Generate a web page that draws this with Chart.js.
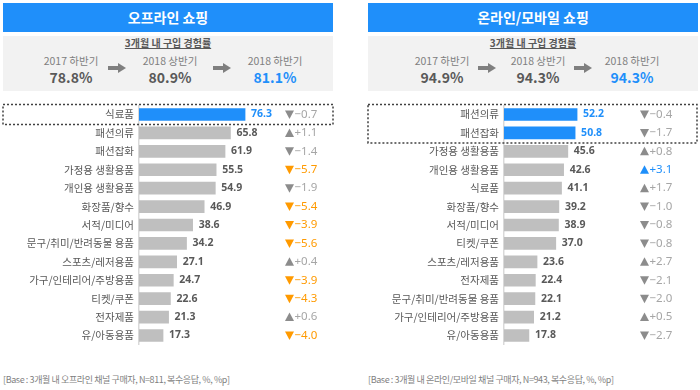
<!DOCTYPE html>
<html><head><meta charset="utf-8">
<script src="https://cdn.jsdelivr.net/npm/chart.js@4"></script>
<style>
body{margin:0;width:700px;height:390px;background:#fff;position:relative;overflow:hidden;font-family:"Noto Sans CJK KR","Noto Sans",sans-serif;}
.abs{position:absolute}
.title{background:#1f8ffa;color:#fff;font-weight:bold;font-size:14px;text-align:center;line-height:29px;height:29px;top:3px;}
.gbox{background:#f2f2f2;top:36px;height:55px;}
.sub{top:36px;font-size:10px;font-weight:bold;color:#595959;text-decoration:underline;text-align:center;line-height:14px}
.per{font-size:10.5px;color:#808080;text-align:center;width:100px;top:54px;line-height:14px}
.val{font-size:14px;color:#595959;text-align:center;width:100px;top:68px;line-height:18px;font-weight:bold}
.shaft{background:#7f7f7f;width:10px;height:4px;top:66px}
.head{width:0;height:0;border-left:8px solid #7f7f7f;border-top:5px solid transparent;border-bottom:5px solid transparent;top:63px}
.foot{top:373px;font-size:9px;color:#7f7f7f;white-space:nowrap;letter-spacing:-0.4px}
</style>
</head>
<body>
<div class="abs title" style="left:3px;width:330px">오프라인 쇼핑</div>
<div class="abs gbox" style="left:3px;width:330px"></div>
<div class="abs sub" style="left:3px;width:330px">3개월 내 구입 경험률</div>
<div class="abs title" style="left:368px;width:330px">온라인/모바일 쇼핑</div>
<div class="abs gbox" style="left:368px;width:330px"></div>
<div class="abs sub" style="left:368px;width:330px">3개월 내 구입 경험률</div>
<div id="hdr"></div>
<div class="abs" style="left:0;top:94px"><canvas id="c1" width="340" height="262"></canvas></div>
<div class="abs" style="left:350px;top:94px"><canvas id="c2" width="350" height="262"></canvas></div>
<div class="abs foot" style="left:3px">[Base : 3개월 내 오프라인 채널 구매자, N=811, 복수응답, %, %p]</div>
<div class="abs foot" style="left:368px">[Base : 3개월 내 온라인/모바일 채널 구매자, N=943, 복수응답, %, %p]</div>
<script>
// ---- data ----
const periodLabels = ['2017 하반기', '2018 상반기', '2018 하반기'];
const offlineRates = [78.8, 80.9, 81.1];
const onlineRates = [94.9, 94.3, 94.3];

const offlineCategories = ['식료품','패션의류','패션잡화','가정용 생활용품','개인용 생활용품','화장품/향수','서적/미디어','문구/취미/반려동물 용품','스포츠/레저용품','가구/인테리어/주방용품','티켓/쿠폰','전자제품','유/아동용품'];
const offlineValues = [76.3, 65.8, 61.9, 55.5, 54.9, 46.9, 38.6, 34.2, 27.1, 24.7, 22.6, 21.3, 17.3];
const offlineChanges = [-0.7, 1.1, -1.4, -5.7, -1.9, -5.4, -3.9, -5.6, 0.4, -3.9, -4.3, 0.6, -4.0];
const offlineSignificant = [false, false, false, true, false, true, true, true, false, true, true, false, true];
const offlineHighlighted = 1;

const onlineCategories = ['패션의류','패션잡화','가정용 생활용품','개인용 생활용품','식료품','화장품/향수','서적/미디어','티켓/쿠폰','스포츠/레저용품','전자제품','문구/취미/반려동물 용품','가구/인테리어/주방용품','유/아동용품'];
const onlineValues = [52.2, 50.8, 45.6, 42.6, 41.1, 39.2, 38.9, 37.0, 23.6, 22.4, 22.1, 21.2, 17.8];
const onlineChanges = [-0.4, -1.7, 0.8, 3.1, 1.7, -1.0, -0.8, -0.8, 2.7, -2.1, -2.0, 0.5, -2.7];
const onlineSignificant = [false, false, false, true, false, false, false, false, false, false, false, false, false];
const onlineHighlighted = 2;

const BLUE = '#1f8ffa', ORANGE = '#ff9a00', GRAY_BAR = '#bfbfbf';

// ---- header ----
function header(rates, centers, arrows){
  const h = document.getElementById('hdr');
  rates.forEach((r, i) => {
    const p = document.createElement('div');
    p.className = 'abs per'; p.style.left = (centers[i] - 50) + 'px'; p.textContent = periodLabels[i];
    h.appendChild(p);
    const v = document.createElement('div');
    v.className = 'abs val'; v.style.left = (centers[i] - 50) + 'px'; v.textContent = r.toFixed(1) + '%';
    if (i === rates.length - 1) v.style.color = BLUE;
    h.appendChild(v);
  });
  arrows.forEach(a => {
    const s = document.createElement('div'); s.className = 'abs shaft'; s.style.left = (a - 9) + 'px'; h.appendChild(s);
    const t = document.createElement('div'); t.className = 'abs head'; t.style.left = (a + 1) + 'px'; h.appendChild(t);
  });
}
header(offlineRates, [71, 170, 275], [117, 222]);
header(onlineRates, [442, 538, 632], [487, 583]);

// ---- annotations plugin ----
const annot = {
  id: 'annot',
  afterDatasetsDraw(chart, args, o) {
    const ctx = chart.ctx, meta = chart.getDatasetMeta(0), area = chart.chartArea;
    const data = chart.data.datasets[0].data;
    ctx.save();
    ctx.textBaseline = 'middle'; ctx.textAlign = 'left';
    meta.data.forEach((bar, i) => {
      const hl = i < o.highlighted;
      ctx.font = 'bold 10.5px "Noto Sans"';
      ctx.fillStyle = hl ? BLUE : '#595959';
      ctx.fillText(data[i].toFixed(1), bar.x + 6, bar.y);
      const c = o.changes[i], up = c > 0;
      let col = '#a6a6a6', tri = '#8c8c8c';
      if (o.significant[i]) { col = tri = up ? BLUE : ORANGE; }
      const x0 = area.left + o.changeOffset, y = bar.y;
      ctx.fillStyle = tri;
      ctx.beginPath();
      if (up) { ctx.moveTo(x0, y + 4); ctx.lineTo(x0 + 9, y + 4); ctx.lineTo(x0 + 4.5, y - 4.5); }
      else { ctx.moveTo(x0, y - 4); ctx.lineTo(x0 + 9, y - 4); ctx.lineTo(x0 + 4.5, y + 4.5); }
      ctx.closePath(); ctx.fill();
      ctx.fillStyle = col;
      ctx.font = '11.5px "Noto Sans"';
      ctx.fillText((up ? '+' : '\u2212') + Math.abs(c).toFixed(1), x0 + 9.5, y);
    });
    const top = meta.data[0].y - 10, bottom = meta.data[o.highlighted - 1].y + 10;
    ctx.setLineDash([2, 2]); ctx.lineWidth = 1.5; ctx.strokeStyle = '#404040';
    ctx.strokeRect(o.boxLeft, top, o.boxRight - o.boxLeft, bottom - top);
    ctx.restore();
  }
};

function makeChart(id, cats, vals, changes, sig, hl, axisW, xmax, changeOffset, boxLeft, boxRight) {
  return new Chart(document.getElementById(id), {
    type: 'bar',
    data: {
      labels: cats,
      datasets: [{
        data: vals,
        backgroundColor: vals.map((v, i) => i < hl ? BLUE : GRAY_BAR),
        barThickness: 12,
        borderWidth: 0
      }]
    },
    options: {
      indexAxis: 'y',
      responsive: false,
      animation: false,
      devicePixelRatio: 1,
      layout: { padding: 0 },
      plugins: {
        legend: { display: false },
        tooltip: { enabled: false },
        annot: { changes, significant: sig, highlighted: hl, changeOffset, boxLeft, boxRight }
      },
      scales: {
        x: { display: false, min: 0, max: xmax },
        y: {
          afterFit(s) { s.width = axisW; },
          grid: { display: false, drawTicks: false },
          border: { display: true, color: '#d9d9d9', width: 1.5 },
          ticks: { padding: 5, color: '#595959', font: { family: '"Noto Sans CJK KR"', size: 10.5 } }
        }
      }
    },
    plugins: [annot]
  });
}

makeChart('c1', offlineCategories, offlineValues, offlineChanges, offlineSignificant, offlineHighlighted, 139, 144.6, 146, 3, 333);
makeChart('c2', onlineCategories, onlineValues, onlineChanges, onlineSignificant, onlineHighlighted, 154, 140, 136, 18, 347);
</script>
</body></html>
